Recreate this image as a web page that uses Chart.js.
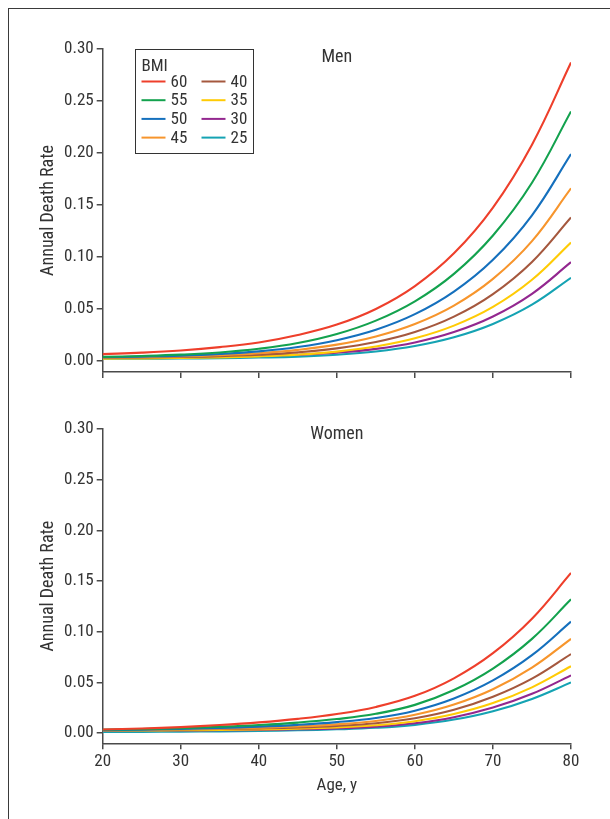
<!DOCTYPE html>
<html>
<head>
<meta charset="utf-8">
<script src="https://cdn.jsdelivr.net/npm/chart.js@4"></script>
<style>
  html, body { margin: 0; padding: 0; background: #fff; overflow: hidden; }
  #page { position: relative; width: 610px; height: 819px; }
  #frame { position: absolute; left: 8px; top: 8px; right: -4px; bottom: -4px;
           border-left: 1.5px solid #3a3a3a; border-top: 1.5px solid #3a3a3a; }
  canvas { position: absolute; left: 0; }
</style>
</head>
<body>
<div id="page">
  <div id="frame"></div>
  <canvas id="men" width="610" height="400" style="top:0"></canvas>
  <canvas id="women" width="610" height="419" style="top:400px"></canvas>
</div>
<script>
// ages on the x axis
const ages = [20, 25, 30, 35, 40, 45, 50, 55, 60, 65, 70, 75, 80]
const xTicks = [20, 30, 40, 50, 60, 70, 80]
const yTicks = [0, 0.05, 0.10, 0.15, 0.20, 0.25, 0.30]
const bmiLabels = ['60', '55', '50', '45', '40', '35', '30', '25']
const bmiColors = ['#ee3f2b', '#13a24e', '#1570bd', '#f7952c', '#a5583e', '#ffcb05', '#93278f', '#15a3b3']

// annual death rate, men
const men60 = [0.0066, 0.0080, 0.0101, 0.0133, 0.0178, 0.0250, 0.0350, 0.0500, 0.0720, 0.1035, 0.1475, 0.2080, 0.287]
const men55 = [0.0039, 0.0048, 0.0061, 0.0082, 0.0117, 0.0172, 0.0259, 0.0388, 0.0574, 0.0838, 0.1207, 0.1714, 0.240]
const men50 = [0.0036, 0.0042, 0.0051, 0.0067, 0.0092, 0.0134, 0.0200, 0.0300, 0.0450, 0.0667, 0.0973, 0.1401, 0.199]
const men45 = [0.0032, 0.0037, 0.0044, 0.0056, 0.0075, 0.0107, 0.0157, 0.0236, 0.0356, 0.0533, 0.0790, 0.1153, 0.166]
const men40 = [0.0029, 0.0033, 0.0038, 0.0046, 0.0060, 0.0083, 0.0121, 0.0182, 0.0278, 0.0426, 0.0643, 0.0952, 0.138]
const men35 = [0.0022, 0.0025, 0.0029, 0.0034, 0.0044, 0.0061, 0.0090, 0.0139, 0.0218, 0.0340, 0.0520, 0.0781, 0.114]
const men30 = [0.0036, 0.0038, 0.0040, 0.0043, 0.0049, 0.0060, 0.0080, 0.0116, 0.0178, 0.0278, 0.0428, 0.0646, 0.095]
const men25 = [0.0021, 0.0022, 0.0024, 0.0027, 0.0033, 0.0042, 0.0060, 0.0091, 0.0144, 0.0228, 0.0356, 0.0541, 0.080]

// annual death rate, women
const women60 = [0.0036, 0.0046, 0.0060, 0.0080, 0.0106, 0.0141, 0.0189, 0.0259, 0.0368, 0.0541, 0.0789, 0.1129, 0.158]
const women55 = [0.0033, 0.0040, 0.0050, 0.0063, 0.0080, 0.0104, 0.0139, 0.0191, 0.0279, 0.0425, 0.0637, 0.0930, 0.132]
const women50 = [0.0030, 0.0035, 0.0042, 0.0052, 0.0064, 0.0082, 0.0109, 0.0150, 0.0222, 0.0342, 0.0520, 0.0769, 0.110]
const women45 = [0.0031, 0.0034, 0.0039, 0.0045, 0.0054, 0.0067, 0.0087, 0.0120, 0.0181, 0.0282, 0.0433, 0.0646, 0.093]
const women40 = [0.0033, 0.0035, 0.0037, 0.0041, 0.0047, 0.0056, 0.0072, 0.0098, 0.0147, 0.0231, 0.0359, 0.0538, 0.078]
const women35 = [0.0026, 0.0027, 0.0029, 0.0032, 0.0037, 0.0044, 0.0056, 0.0078, 0.0118, 0.0189, 0.0297, 0.0452, 0.066]
const women30 = [0.0025, 0.0026, 0.0027, 0.0029, 0.0032, 0.0038, 0.0047, 0.0064, 0.0097, 0.0157, 0.0252, 0.0388, 0.057]
const women25 = [0.0011, 0.0013, 0.0015, 0.0018, 0.0022, 0.0029, 0.0038, 0.0053, 0.0082, 0.0134, 0.0217, 0.0338, 0.050]

const menSeries = [men60, men55, men50, men45, men40, men35, men30, men25]
const womenSeries = [women60, women55, women50, women45, women40, women35, women30, women25]

const FONT = "'Liberation Sans Narrow', 'Roboto Condensed', 'DejaVu Sans Condensed', 'Liberation Sans', sans-serif"
const TEXT = '#333'
const AXIS = '#4a4a4a'

Chart.defaults.font.family = FONT
Chart.defaults.font.size = 17
Chart.defaults.color = TEXT

// "Men" / "Women" label inside the plot
const panelLabel = {
  id: 'panelLabel',
  afterDatasetsDraw(chart, args, opts) {
    const {ctx, chartArea} = chart
    ctx.save()
    ctx.font = `18px ${FONT}`
    ctx.fillStyle = TEXT
    ctx.textAlign = 'center'
    ctx.textBaseline = 'middle'
    ctx.fillText(opts.text, (chartArea.left + chartArea.right) / 2, chartArea.top + opts.dy)
    ctx.restore()
  }
}

// boxed BMI legend, two columns
const bmiLegend = {
  id: 'bmiLegend',
  afterDatasetsDraw(chart, args, opts) {
    if (!opts.show) return
    const {ctx, chartArea} = chart
    const x0 = Math.round(chartArea.left + 32) + 0.5
    const y0 = Math.round(chartArea.top) + 0.5
    ctx.save()
    ctx.fillStyle = '#fff'
    ctx.fillRect(x0, y0, 118, 104)
    ctx.strokeStyle = '#333'
    ctx.lineWidth = 1
    ctx.strokeRect(x0, y0, 118, 104)
    ctx.font = `17px ${FONT}`
    ctx.fillStyle = TEXT
    ctx.textBaseline = 'middle'
    ctx.fillText('BMI', x0 + 6, y0 + 17)
    chart.data.datasets.forEach((ds, i) => {
      const col = Math.floor(i / 4)
      const row = i % 4
      const lx = x0 + 6 + col * 60
      const ly = y0 + 32 + row * 18.7
      ctx.strokeStyle = ds.borderColor
      ctx.lineWidth = 2
      ctx.beginPath()
      ctx.moveTo(lx, ly)
      ctx.lineTo(lx + 24, ly)
      ctx.stroke()
      ctx.fillStyle = TEXT
      ctx.fillText(ds.label, lx + 29, ly + 1)
    })
    ctx.restore()
  }
}

function makeChart(canvasId, series, opt) {
  const datasets = series.map((values, i) => ({
    label: bmiLabels[i],
    data: values.map((v, k) => ({x: ages[k], y: v})),
    borderColor: bmiColors[i],
    borderWidth: 2.1,
    pointRadius: 0,
    fill: false,
    tension: 0.4
  }))
  return new Chart(document.getElementById(canvasId), {
    type: 'line',
    data: {datasets: datasets},
    plugins: [panelLabel, bmiLegend],
    options: {
      responsive: false,
      animation: false,
      devicePixelRatio: 1,
      layout: {padding: opt.padding},
      plugins: {
        legend: {display: false},
        tooltip: {enabled: false},
        panelLabel: {text: opt.title, dy: opt.titleDy},
        bmiLegend: {show: opt.legend}
      },
      scales: {
        x: {
          type: 'linear',
          min: 20,
          max: 80,
          afterBuildTicks: (s) => { s.ticks = xTicks.map(v => ({value: v})) },
          afterFit: (s) => { s.height = opt.xHeight },
          ticks: {
            padding: 2,
            color: TEXT,
            callback: (v) => opt.xLabels ? String(v) : ''
          },
          grid: {drawOnChartArea: false, drawTicks: true, tickLength: 6, color: AXIS, lineWidth: 1.5},
          border: {display: true, color: AXIS, width: 1.5},
          title: {display: opt.xLabels, text: 'Age, y', color: TEXT, padding: {top: 2, bottom: 0}}
        },
        y: {
          min: opt.yMin,
          max: 0.30,
          afterBuildTicks: (s) => { s.ticks = yTicks.map(v => ({value: v})) },
          afterFit: (s) => { s.width = 68.7 },
          ticks: {
            padding: 3,
            color: TEXT,
            callback: (v) => v.toFixed(2)
          },
          grid: {drawOnChartArea: false, drawTicks: true, tickLength: 6, color: AXIS, lineWidth: 1.5},
          border: {display: true, color: AXIS, width: 1.5},
          title: {display: true, text: 'Annual Death Rate', color: TEXT, font: {size: 18}, padding: {top: 4, bottom: 4}}
        }
      }
    }
  })
}

makeChart('men', menSeries, {
  padding: {top: 49, right: 39, left: 34, bottom: 0},
  xHeight: 28,
  yMin: -0.0106,
  xLabels: false,
  title: 'Men',
  titleDy: 8,
  legend: true
})

makeChart('women', womenSeries, {
  padding: {top: 29, right: 39, left: 34, bottom: 23},
  xHeight: 52.7,
  yMin: -0.0100,
  xLabels: true,
  title: 'Women',
  titleDy: 5,
  legend: false
})
</script>
</body>
</html>
